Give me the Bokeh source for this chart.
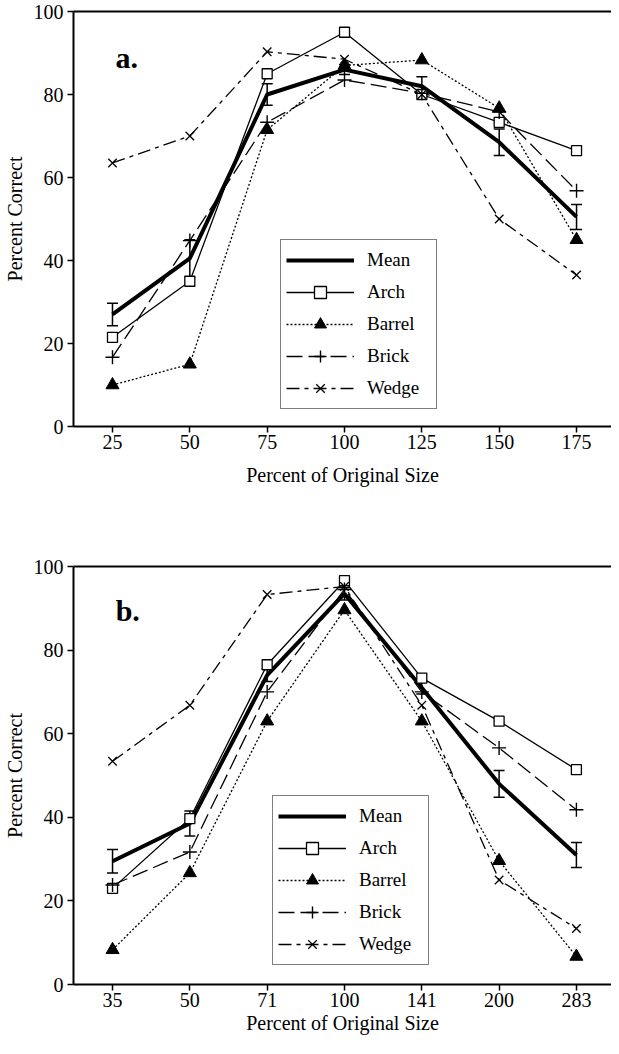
from bokeh.plotting import figure
from bokeh.models import (Range1d, FixedTicker, LinearAxis, Whisker, ColumnDataSource,
                          Legend, LegendItem, Label, TeeHead)
from bokeh.layouts import column
from bokeh.embed import file_html
from bokeh.resources import INLINE

# ---------------- data: panel a ----------------
sizes_a = [25, 50, 75, 100, 125, 150, 175]
mean_a = [27, 40.5, 80, 86, 82, 68.5, 50.5]
err_a = [2.7, 4.5, 2.6, 1.2, 2.3, 3.2, 3.0]
arch_a = [21.5, 35, 85, 95, 80, 73.3, 66.5]
barrel_a = [10, 15, 71.5, 87, 88.3, 76.7, 45]
brick_a = [16.7, 44.8, 73.3, 83.5, 80.3, 75.8, 56.8]
wedge_a = [63.5, 70, 90.3, 88.5, 80, 50, 36.5]

# ---------------- data: panel b ----------------
sizes_b = ["35", "50", "71", "100", "141", "200", "283"]
mean_b = [29.5, 38.5, 74, 93.5, 71, 48, 31]
err_b = [2.8, 3.0, 1.5, 1.5, 1.5, 3.2, 3.0]
arch_b = [23, 39.7, 76.5, 96.6, 73.3, 63, 51.4]
barrel_b = [8.3, 26.7, 63, 89.6, 63, 29.6, 6.7]
brick_b = [23.8, 31.7, 70, 94.5, 70, 56.6, 41.8]
wedge_b = [53.4, 66.8, 93.3, 95.2, 66.8, 25, 13.4]

y_ticks = [0, 20, 40, 60, 80, 100]

FONT = "Liberation Serif"


def style_axes(p, xticks, overrides=None, xlabel_standoff=6):
    p.outline_line_color = None
    p.grid.visible = False
    p.background_fill_color = "white"
    p.border_fill_color = "white"
    for ax in (p.xaxis[0], p.yaxis[0]):
        ax.axis_line_width = 2
        ax.axis_line_color = "black"
        ax.major_tick_line_width = 1.5
        ax.major_tick_line_color = "black"
        ax.major_tick_out = 6
        ax.major_tick_in = 0
        ax.minor_tick_line_color = None
        ax.major_label_text_font = FONT
        ax.major_label_text_font_size = "20px"
        ax.major_label_text_color = "black"
        ax.axis_label_text_font = FONT
        ax.axis_label_text_font_size = "20px"
        ax.axis_label_text_font_style = "normal"
        ax.axis_label_text_color = "black"
    p.xaxis[0].ticker = FixedTicker(ticks=xticks)
    if overrides:
        p.xaxis[0].major_label_overrides = overrides
    p.xaxis[0].major_label_standoff = 2
    p.xaxis[0].axis_label_standoff = xlabel_standoff
    p.yaxis[0].ticker = FixedTicker(ticks=y_ticks)
    p.yaxis[0].major_label_standoff = 4
    p.yaxis[0].axis_label_standoff = 5
    p.xaxis[0].axis_label = "Percent of Original Size"
    p.yaxis[0].axis_label = "Percent Correct"
    top = LinearAxis(ticker=FixedTicker(ticks=[]), axis_line_width=2, axis_line_color="black",
                     major_tick_out=0, major_tick_in=0, minor_tick_out=0, minor_tick_in=0,
                     major_label_text_font_size="0px", major_label_standoff=0)
    p.add_layout(top, "above")


def draw_series(p, xs, mean, err, arch, barrel, brick, wedge, legend_loc):
    lw = 1.3
    ra = p.line(xs, arch, line_color="black", line_width=lw)
    rb = p.line(xs, barrel, line_color="black", line_width=lw, line_dash="2 2")
    rk = p.line(xs, brick, line_color="black", line_width=lw, line_dash="16 6")
    rw = p.line(xs, wedge, line_color="black", line_width=lw, line_dash="13 5 4 5")
    rm = p.line(xs, mean, line_color="black", line_width=4)
    src = ColumnDataSource(dict(x=xs, upper=[m + e for m, e in zip(mean, err)],
                                lower=[m - e for m, e in zip(mean, err)]))
    wh = Whisker(source=src, base="x", upper="upper", lower="lower",
                 line_color="black", line_width=1.5,
                 upper_head=TeeHead(size=11, line_width=1.5, line_color="black"),
                 lower_head=TeeHead(size=11, line_width=1.5, line_color="black"))
    p.add_layout(wh)
    sa = p.scatter(xs, arch, marker="square", size=10, fill_color="white",
                   line_color="black", line_width=1.3)
    sb = p.scatter(xs, barrel, marker="triangle", size=13, fill_color="black",
                   line_color="black")
    sk = p.scatter(xs, brick, marker="cross", size=14, line_color="black", line_width=1.4)
    sw = p.scatter(xs, wedge, marker="x", size=12, line_color="black", line_width=1.3)
    items = [
        LegendItem(label="Mean", renderers=[rm]),
        LegendItem(label="Arch", renderers=[ra, sa]),
        LegendItem(label="Barrel", renderers=[rb, sb]),
        LegendItem(label="Brick", renderers=[rk, sk]),
        LegendItem(label="Wedge", renderers=[rw, sw]),
    ]
    leg = Legend(items=items, location=legend_loc,
                 border_line_color="black", border_line_width=1.5,
                 background_fill_color="white", background_fill_alpha=1,
                 label_text_font=FONT, label_text_font_size="19px",
                 label_text_color="black",
                 glyph_width=68, glyph_height=30, label_height=30, label_width=64,
                 label_standoff=13, spacing=2, padding=5, margin=0)
    p.add_layout(leg)


# ---------------- panel a ----------------
p1 = figure(width=611, height=540, x_range=Range1d(12.4, 186.3), y_range=Range1d(0, 100),
            output_backend="svg", toolbar_location=None,
            min_border_left=67, min_border_right=0, min_border_top=11, min_border_bottom=114)
style_axes(p1, sizes_a, xlabel_standoff=12)
draw_series(p1, sizes_a, mean_a, err_a, arch_a, barrel_a, brick_a, wedge_a, (207, 17))
p1.add_layout(Label(x=26, y=89, text="a.", text_font=FONT, text_font_size="30px",
                    text_font_style="bold", text_color="black", text_baseline="alphabetic"))

# ---------------- panel b ----------------
xs_b = list(range(len(sizes_b)))
p2 = figure(width=611, height=498, x_range=Range1d(-0.505, 6.454), y_range=Range1d(0, 100),
            output_backend="svg", toolbar_location=None,
            min_border_left=67, min_border_right=0, min_border_top=26, min_border_bottom=54)
style_axes(p2, xs_b, overrides={i: s for i, s in enumerate(sizes_b)}, xlabel_standoff=2)
draw_series(p2, xs_b, mean_b, err_b, arch_b, barrel_b, brick_b, wedge_b, (199, 19))
p2.add_layout(Label(x=0.04, y=89.5, text="b.", text_font=FONT, text_font_size="30px",
                    text_font_style="bold", text_color="black", text_baseline="alphabetic"))

layout = column(p1, p2, spacing=0)
open("out.html", "w").write(file_html(layout, INLINE))
